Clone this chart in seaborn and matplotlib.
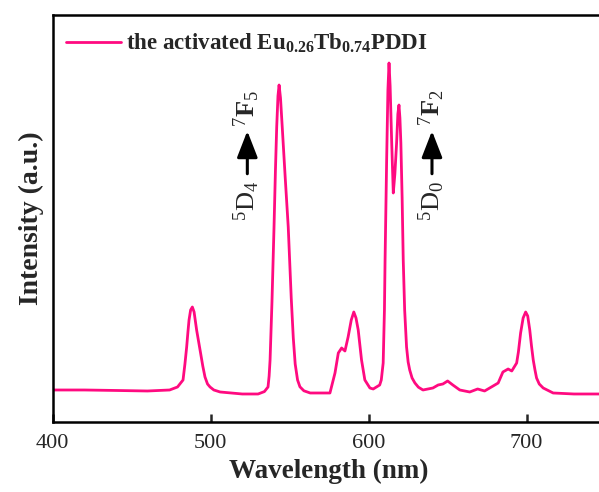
import matplotlib
matplotlib.use("Agg")
import matplotlib.pyplot as plt
import seaborn as sns
import pandas as pd

# Spectrum (wavelength in nm, intensity in a.u.)
wavelength = [400, 420, 440, 460, 474, 479, 480.5, 482.5, 483.7, 484.8, 485.6, 486.3,
              487.3, 488.4, 489.5, 491.1, 493.6, 495, 496.4, 498, 499.6, 502, 506,
              520, 530, 534, 536.3, 537, 537.6, 538.8, 540.1, 541, 541.8, 542.6,
              543.3, 544.2, 545.3, 547.2, 549.1, 551, 552.3, 553.5, 555, 556.5, 559,
              563, 575.5, 578.7, 580.8, 582.9, 585, 587, 589, 590.6, 592, 593.4,
              595.5, 597.6, 600.8, 602.9, 607, 608, 609.2, 610, 610.4, 611.4, 612.2,
              612.9, 613.6, 614.6, 615.6, 616.6, 617.7, 618.5, 619.2, 619.8, 620.4,
              621.2, 621.9, 622.8, 624, 625, 626, 627.5, 629.3, 631.5, 634.4, 640.7,
              644, 647, 650, 653.3, 657.7, 664, 669, 673.4, 678.8, 682, 685, 688.3,
              690.6, 693.7, 694.8, 696.2, 697.8, 699.4, 700.7, 702, 703.1, 704.2,
              705.3, 706.3, 708, 710.5, 716.8, 730, 750]
intensity = [800, 800, 788, 775, 800, 875, 950, 1050, 1450, 1875, 2250, 2550,
             2800, 2875, 2750, 2300, 1725, 1400, 1125, 950, 875, 800, 750,
             700, 700, 760, 875, 1150, 1550, 3000, 4875, 6300, 7375, 8150,
             8425, 8100, 7375, 6100, 4875, 3100, 2100, 1450, 1050, 880, 780,
             725, 725, 1225, 1725, 1850, 1775, 2125, 2550, 2750, 2600, 2300,
             1550, 1050, 850, 825, 925, 1050, 1475, 2800, 4050, 6550, 8300,
             8975, 8400, 6975, 5725, 6200, 6975, 7700, 7925, 7600, 6975,
             5600, 4050, 2800, 1875, 1500, 1300, 1100, 975, 870, 800, 850,
             925, 950, 1025, 925, 800, 750, 825, 775, 900, 975, 1250, 1325,
             1275, 1475, 1750, 2225, 2600, 2750, 2650, 2300, 1900, 1550,
             1300, 1100, 950, 850, 725, 700, 700]
xticks = [400, 500, 600, 700]
series_label = r"the activated Eu$_{\mathbf{0.26}}$Tb$_{\mathbf{0.74}}$PDDI"

sns.set_style("ticks")
plt.rcParams["font.family"] = ["Liberation Serif", "DejaVu Serif"]
plt.rcParams["mathtext.fontset"] = "custom"
plt.rcParams["mathtext.rm"] = "Liberation Serif"
plt.rcParams["mathtext.bf"] = "Liberation Serif:bold"
plt.rcParams["mathtext.it"] = "Liberation Serif:italic"

df = pd.DataFrame({"wl": wavelength, "I": intensity})

fig = plt.figure(figsize=(5.99, 4.92), dpi=100)
ax = fig.add_axes([0.088, 0.1423, 0.923, 0.8272])

sns.lineplot(data=df, x="wl", y="I", ax=ax, color="#FF0A80", lw=2.0,
             label=series_label)

ax.set_xlim(400, 750)
ax.set_ylim(0, 10175)
ax.set_xticks(xticks)
ax.set_xticklabels([str(t) for t in xticks], fontsize=16)
ax.set_yticks([])
ax.tick_params(axis="x", direction="in", length=6, width=1.8, pad=9)
for s in ax.spines.values():
    s.set_linewidth(1.8)
    s.set_color("black")
    s.set_visible(True)

ax.set_xlabel("Wavelength (nm)", fontsize=19.5, fontweight="bold", labelpad=4)
ax.set_ylabel("Intensity (a.u.)", fontsize=20, fontweight="bold", labelpad=6)

leg = ax.legend(loc="upper left", bbox_to_anchor=(-0.014, 1.01), frameon=False,
                handlelength=2.4, handletextpad=0.25,
                prop={"weight": "bold", "size": 16.5})

# transition annotations
def transition(xf, lower, upper):
    ax.text(xf, 0.543, lower, rotation=90, ha="center", va="center",
            transform=ax.transAxes, fontsize=19)
    ax.annotate("", xy=(xf, 0.715), xytext=(xf, 0.61),
                xycoords="axes fraction", textcoords="axes fraction",
                arrowprops=dict(arrowstyle="-|>,head_length=0.9,head_width=0.35",
                                lw=2.2, color="black", shrinkA=0, shrinkB=0,
                                mutation_scale=18))
    ax.text(xf, 0.771, upper, rotation=90, ha="center", va="center",
            transform=ax.transAxes, fontsize=19)

transition(0.352, r"$^5$D$_4$", r"$^7$$\mathbf{F}$$_5$")
transition(0.686, r"$^5$D$_0$", r"$^7$$\mathbf{F}$$_2$")

fig.savefig("out.png", dpi=100)
